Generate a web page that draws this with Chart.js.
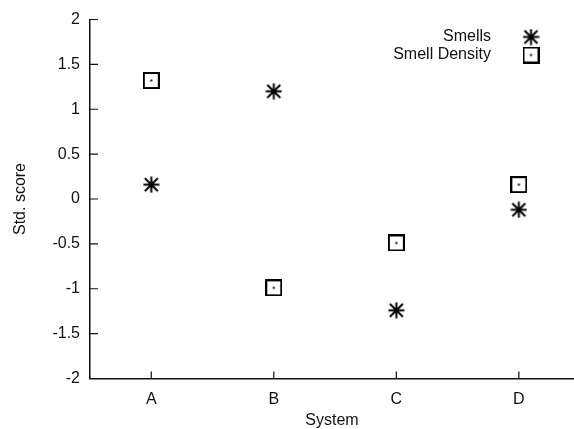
<!DOCTYPE html>
<html>
<head>
<meta charset="utf-8">
<title>Std. score by system</title>
<script src="https://cdn.jsdelivr.net/npm/chart.js@4"></script>
<style>
  html, body { margin: 0; padding: 0; background: #fff; overflow: hidden; }
  canvas { display: block; }
</style>
</head>
<body>
<canvas id="chart" width="574" height="429"></canvas>
<script>
// --- data ---
var systems = ['A', 'B', 'C', 'D'];
var smells = [0.16, 1.2, -1.24, -0.12];
var smellDensity = [1.32, -0.99, -0.49, 0.16];
var yTicks = [-2, -1.5, -1, -0.5, 0, 0.5, 1, 1.5, 2];

var ink = '#111';
var fontFamily = '"Liberation Sans", Arial, Helvetica, sans-serif';

// gnuplot-like markers drawn once into small canvases
function makeStar() {
  var cv = document.createElement('canvas');
  cv.width = 17; cv.height = 17;
  var g = cv.getContext('2d');
  g.strokeStyle = '#000';
  g.lineWidth = 2;
  g.beginPath();
  g.moveTo(8.5, 0.5); g.lineTo(8.5, 16.5);
  g.moveTo(0.5, 8.5); g.lineTo(16.5, 8.5);
  g.moveTo(2, 2); g.lineTo(15, 15);
  g.moveTo(15, 2); g.lineTo(2, 15);
  g.stroke();
  return cv;
}

function makeBoxDot() {
  var cv = document.createElement('canvas');
  cv.width = 17; cv.height = 17;
  var g = cv.getContext('2d');
  g.strokeStyle = '#000';
  g.lineWidth = 2;
  g.strokeRect(1, 1, 15, 15);
  g.fillStyle = '#000';
  g.fillRect(7.5, 7.5, 2, 2);
  return cv;
}

function toPoints(values) {
  return values.map(function(v, i) { return { x: i + 1, y: v }; });
}

// ticks pointing into the plot, like gnuplot
var inwardTicks = {
  id: 'inwardTicks',
  afterDraw: function(chart) {
    var ctx = chart.ctx;
    var area = chart.chartArea;
    var xs = chart.scales.x;
    var ys = chart.scales.y;
    ctx.save();
    ctx.strokeStyle = ink;
    ctx.lineWidth = 1.2;
    ctx.beginPath();
    ys.ticks.forEach(function(t) {
      var y = ys.getPixelForValue(t.value);
      ctx.moveTo(area.left, y);
      ctx.lineTo(area.left + 8, y);
    });
    xs.ticks.forEach(function(t) {
      var x = xs.getPixelForValue(t.value);
      ctx.moveTo(x, area.bottom);
      ctx.lineTo(x, area.bottom - 7);
    });
    ctx.stroke();
    ctx.restore();
  }
};

// key in the top right corner: text, then marker
var keyBox = {
  id: 'keyBox',
  afterDraw: function(chart) {
    var ctx = chart.ctx;
    var right = chart.chartArea.right;
    ctx.save();
    ctx.font = '16px ' + fontFamily;
    ctx.fillStyle = ink;
    ctx.textAlign = 'right';
    ctx.textBaseline = 'middle';
    chart.data.datasets.forEach(function(ds, i) {
      var y = 37 + i * 18;
      ctx.fillText(ds.label, right - 83, y);
      var img = ds.pointStyle;
      ctx.drawImage(img, right - 43 - img.width / 2, y - img.height / 2);
    });
    ctx.restore();
  }
};

new Chart(document.getElementById('chart'), {
  type: 'scatter',
  data: {
    datasets: [
      {
        label: 'Smells',
        data: toPoints(smells),
        pointStyle: makeStar(),
        pointRadius: 8,
        pointHoverRadius: 8
      },
      {
        label: 'Smell Density',
        data: toPoints(smellDensity),
        pointStyle: makeBoxDot(),
        pointRadius: 8,
        pointHoverRadius: 8
      }
    ]
  },
  options: {
    responsive: false,
    animation: false,
    layout: {
      autoPadding: false,
      padding: { top: 19.5, right: 0, bottom: 0, left: 0 }
    },
    plugins: {
      legend: { display: false },
      tooltip: { enabled: false }
    },
    scales: {
      x: {
        type: 'linear',
        min: 0.5,
        max: 4.45,
        afterBuildTicks: function(scale) {
          scale.ticks = systems.map(function(s, i) { return { value: i + 1 }; });
        },
        afterFit: function(scale) {
          scale.height = 50.5;
          scale.paddingLeft = 0;
          scale.paddingRight = 0;
        },
        grid: { display: false, drawTicks: false },
        border: { display: true, color: ink, width: 1.5 },
        ticks: {
          padding: 11,
          color: ink,
          font: { family: fontFamily, size: 16 },
          callback: function(v) { return systems[v - 1]; }
        },
        title: {
          display: true,
          text: 'System',
          color: ink,
          font: { family: fontFamily, size: 16, lineHeight: 1 },
          padding: { top: 0, bottom: 0 }
        }
      },
      y: {
        min: -2,
        max: 2,
        afterBuildTicks: function(scale) {
          scale.ticks = yTicks.map(function(v) { return { value: v }; });
        },
        afterFit: function(scale) {
          scale.width = 90;
          scale.paddingTop = 0;
          scale.paddingBottom = 0;
        },
        grid: { display: false, drawTicks: false },
        border: { display: true, color: ink, width: 1.5 },
        ticks: {
          padding: 10,
          color: ink,
          font: { family: fontFamily, size: 16 },
          callback: function(v) { return String(v); }
        },
        title: {
          display: true,
          text: 'Std. score',
          color: ink,
          font: { family: fontFamily, size: 16 },
          padding: { top: 11, bottom: 0 }
        }
      }
    }
  },
  plugins: [inwardTicks, keyBox]
});
</script>
</body>
</html>
